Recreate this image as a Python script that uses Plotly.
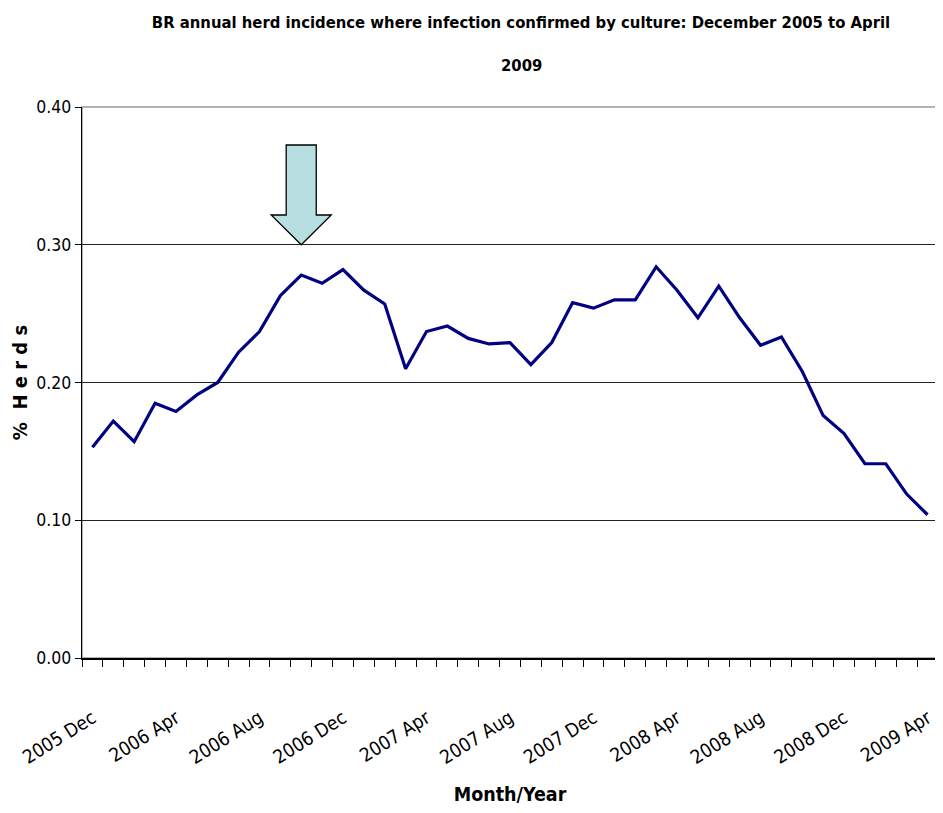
import plotly.graph_objects as go

months = ["2005 Dec", "2006 Jan", "2006 Feb", "2006 Mar", "2006 Apr", "2006 May", "2006 Jun",
          "2006 Jul", "2006 Aug", "2006 Sep", "2006 Oct", "2006 Nov", "2006 Dec",
          "2007 Jan", "2007 Feb", "2007 Mar", "2007 Apr", "2007 May", "2007 Jun",
          "2007 Jul", "2007 Aug", "2007 Sep", "2007 Oct", "2007 Nov", "2007 Dec",
          "2008 Jan", "2008 Feb", "2008 Mar", "2008 Apr", "2008 May", "2008 Jun",
          "2008 Jul", "2008 Aug", "2008 Sep", "2008 Oct", "2008 Nov", "2008 Dec",
          "2009 Jan", "2009 Feb", "2009 Mar", "2009 Apr"]

herd_pct = [0.153, 0.172, 0.157, 0.185, 0.179, 0.191, 0.200, 0.222, 0.237, 0.263,
            0.278, 0.272, 0.282, 0.267, 0.257, 0.210, 0.237, 0.241, 0.232, 0.228,
            0.229, 0.213, 0.229, 0.258, 0.254, 0.260, 0.260, 0.284, 0.267, 0.247,
            0.270, 0.247, 0.227, 0.233, 0.208, 0.176, 0.163, 0.141, 0.141, 0.119, 0.104]

label_step = 4
y_ticks = [0.0, 0.1, 0.2, 0.3, 0.4]

# arrow marker (pointing at 2006 Oct)
arrow_idx = 10
arrow_tip = 0.30
arrow_head_base = 0.3216
arrow_top = 0.3724
arrow_head_half = 1.44
arrow_shaft_half = 0.72

FONT = "DejaVu Sans Condensed, Liberation Sans Narrow, Arial Narrow, sans-serif"

# page body has an 8px margin, so the figure is sized/offset to compensate
W, H = 935, 805
ML, MR, MT, MB = 74, 5, 99, 155

x_idx = list(range(len(months)))

fig = go.Figure()
fig.add_trace(go.Scatter(
    x=x_idx, y=herd_pct, mode="lines",
    line=dict(color="#000080", width=3.2),
    hoverinfo="skip", showlegend=False,
))

ax = arrow_idx
path = (f"M {ax - arrow_shaft_half} {arrow_top} L {ax + arrow_shaft_half} {arrow_top} "
        f"L {ax + arrow_shaft_half} {arrow_head_base} L {ax + arrow_head_half} {arrow_head_base} "
        f"L {ax} {arrow_tip} L {ax - arrow_head_half} {arrow_head_base} "
        f"L {ax - arrow_shaft_half} {arrow_head_base} Z")
fig.add_shape(type="path", path=path, xref="x", yref="y",
              fillcolor="#B7DFE1", line=dict(color="black", width=1.3))

# plot border (gray top/right)
fig.add_shape(type="rect", xref="paper", yref="paper", x0=0, x1=1, y0=0, y1=1,
              line=dict(color="#9a9a9a", width=1.5), layer="below")

plot_h = H - MT - MB
plot_w = W - ML - MR

fig.update_layout(
    width=W, height=H,
    margin=dict(l=ML, r=MR, t=MT, b=MB, autoexpand=False),
    paper_bgcolor="white", plot_bgcolor="white",
    font=dict(family=FONT, color="black"),
    title=dict(text="<b>BR annual herd incidence where infection confirmed by culture: December 2005 to April</b>",
               x=513 / W, xanchor="center", xref="container", y=1 - 14 / H, yanchor="middle",
               font=dict(size=16.5, family=FONT)),
    annotations=[dict(text="<b>2009</b>", xref="paper", yref="paper",
                      x=(513 - ML) / plot_w, y=1 + (MT - 57) / plot_h, xanchor="center", yanchor="middle",
                      showarrow=False, font=dict(size=16.5, family=FONT))],
)

fig.update_xaxes(
    range=[-0.5, len(months) - 0.5],
    tickmode="array",
    tickvals=x_idx[::label_step],
    ticktext=months[::label_step],
    tickangle=-32,
    ticks="",
    ticklabelstandoff=40,
    tickfont=dict(size=19, family=FONT),
    minor=dict(tickmode="linear", tick0=-0.5, dtick=1, ticks="outside", ticklen=7,
               tickcolor="black", tickwidth=1, showgrid=False),
    showgrid=False,
    showline=True, linecolor="black", linewidth=1.5,
    zeroline=False, automargin=False,
    title=dict(text="<b>Month/Year</b>", font=dict(size=19.5, family=FONT), standoff=20),
)

fig.update_yaxes(
    range=[0, 0.4],
    tickvals=y_ticks,
    tickformat=".2f",
    ticks="outside", ticklen=6, tickcolor="black",
    tickfont=dict(size=17.5, family=FONT),
    showgrid=True, gridcolor="#222222", gridwidth=1,
    showline=True, linecolor="black", linewidth=1.2,
    zeroline=False, automargin=False,
    title=dict(text="<b>%  H e r d s</b>", font=dict(size=20, family=FONT), standoff=16),
)

fig.write_html("out.html")
